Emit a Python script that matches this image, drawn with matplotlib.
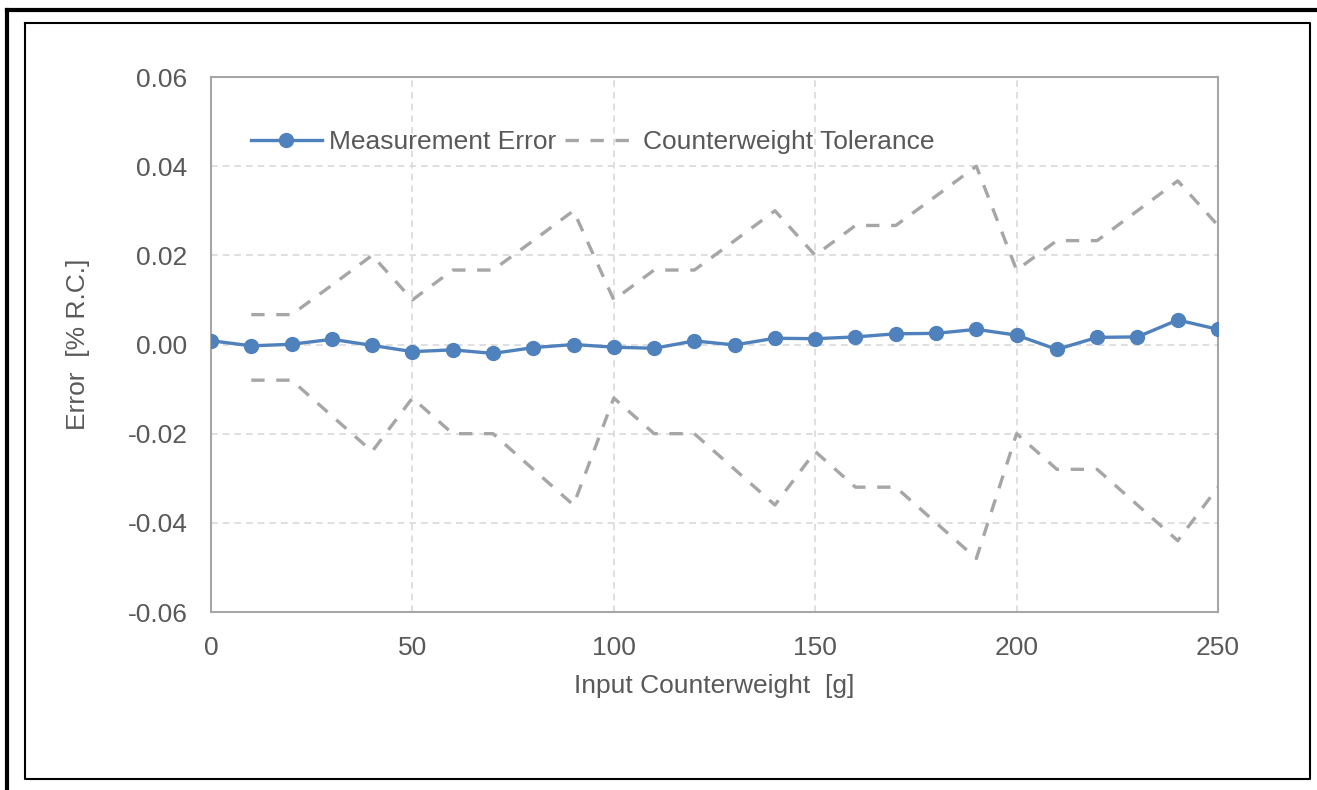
import numpy as np
import matplotlib.pyplot as plt
from matplotlib.lines import Line2D

plt.rcParams['font.family'] = ['Liberation Sans', 'DejaVu Sans']

# data
weight = [0, 10, 20, 30, 40, 50, 60, 70, 80, 90, 100, 110, 120, 130, 140, 150,
          160, 170, 180, 190, 200, 210, 220, 230, 240, 250]
meas_error = [0.00085, -0.0003, 0.00005, 0.00117, -0.0002, -0.0016, -0.0012, -0.002,
              -0.0007, 0.0, -0.0006, -0.00085, 0.0008, -0.0001, 0.0014, 0.0013,
              0.0017, 0.0024, 0.0025, 0.0034, 0.0021, -0.0011, 0.0016, 0.0017,
              0.0055, 0.0034]
tol_weight = weight[1:]
tol_upper = [0.0067, 0.0067, 0.0133, 0.020, 0.010, 0.0167, 0.0167, 0.0233, 0.030,
             0.010, 0.0167, 0.0167, 0.0233, 0.030, 0.020, 0.0267, 0.0267, 0.0333,
             0.040, 0.0167, 0.0233, 0.0233, 0.030, 0.0367, 0.0267]
tol_lower = [-0.008, -0.008, -0.016, -0.024, -0.012, -0.020, -0.020, -0.028, -0.036,
             -0.012, -0.020, -0.020, -0.028, -0.036, -0.024, -0.032, -0.032, -0.040,
             -0.048, -0.020, -0.028, -0.028, -0.036, -0.044, -0.032]
x_ticks = [0, 50, 100, 150, 200, 250]
y_ticks = [-0.06, -0.04, -0.02, 0.0, 0.02, 0.04, 0.06]

W, H = 1317, 790
blue = '#4F81BD'
gray = '#A6A6A6'
txt = '#595959'
fs = 19

fig = plt.figure(figsize=(W / 100, H / 100), dpi=100)
ax = fig.add_axes([211 / W, 1 - 612 / H, (1218 - 211) / W, (612 - 77) / H])

ax.plot(weight, meas_error, color=blue, lw=2.4, marker='o', ms=10,
        label='Measurement Error', zorder=4)
ax.plot(tol_weight, tol_upper, color=gray, lw=2.4, ls=(0, (4, 3.5)),
        label='Counterweight Tolerance', zorder=3)
ax.plot(tol_weight, tol_lower, color=gray, lw=2.4, ls=(0, (4, 3.5)), zorder=3)

ax.set_xlim(0, 250)
ax.set_ylim(-0.06, 0.06)
ax.set_xticks(x_ticks)
ax.set_yticks(y_ticks)
ax.set_yticklabels(['%.2f' % v for v in y_ticks])
ax.tick_params(length=0, labelsize=fs, labelcolor=txt)
ax.tick_params(axis='y', pad=17)
ax.tick_params(axis='x', pad=17)
ax.grid(True, color='#D9D9D9', ls=(0, (4, 3)), lw=1.2)
ax.set_axisbelow(True)
for s in ax.spines.values():
    s.set_color(gray)
    s.set_linewidth(1.5)

ax.set_xlabel('Input Counterweight  [g]', fontsize=fs, color=txt, labelpad=10)
ax.set_ylabel('Error  [% R.C.]', fontsize=fs, color=txt, labelpad=27)

leg = ax.legend(loc='upper left', bbox_to_anchor=(0.016, 0.945), ncol=2, frameon=False,
                fontsize=fs, handlelength=2.7, handletextpad=0.25, columnspacing=0.35,
                labelcolor=txt)

# outer frames (screenshot-style borders)
def px(x, y):
    return x / W, 1 - y / H

for xs, ys, lw in [((7, 7), (10, 790), 3), ((7, 1317), (10, 10), 3)]:
    p0, p1 = px(xs[0], ys[0]), px(xs[1], ys[1])
    fig.add_artist(Line2D([p0[0], p1[0]], [p0[1], p1[1]], color='black', lw=lw,
                          transform=fig.transFigure))
corners = [(25, 23), (1310, 23), (1310, 779), (25, 779), (25, 23)]
cx = [px(a, b)[0] for a, b in corners]
cy = [px(a, b)[1] for a, b in corners]
fig.add_artist(Line2D(cx, cy, color='black', lw=1.5, transform=fig.transFigure))

fig.savefig('out.png', dpi=100)
